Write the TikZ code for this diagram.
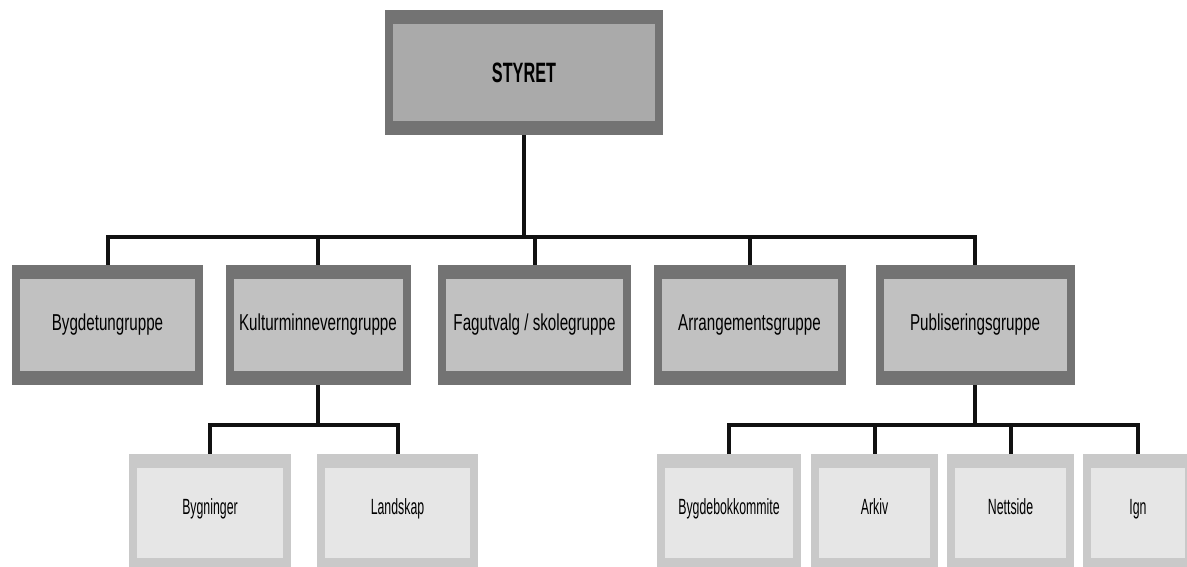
\documentclass[tikz,border=0pt]{standalone}
\usepackage{fontspec}
\newfontfamily\condfont[FakeStretch=0.66]{Liberation Sans}
\newfontfamily\narrowfont[FakeStretch=0.56]{Liberation Sans}
\newfontfamily\titlefont[FakeStretch=0.58]{Liberation Sans Bold}
\usetikzlibrary{calc}
\definecolor{darkframe}{HTML}{737373}
\definecolor{topfill}{HTML}{AAAAAA}
\definecolor{midfill}{HTML}{C1C1C1}
\definecolor{lightframe}{HTML}{C9C9C9}
\definecolor{lightfill}{HTML}{E6E6E6}
\definecolor{wire}{HTML}{111111}
\tikzset{
  x=1pt, y=-1pt,
  framebox/.style n args={2}{rectangle, inner sep=0pt, fill=#1,
    path picture={\fill[#2]
      ($(path picture bounding box.north west)+(8pt,-14pt)$) rectangle
      ($(path picture bounding box.south east)+(-8pt,14pt)$);}},
  topbox/.style={framebox={darkframe}{topfill}, minimum width=278pt, minimum height=125pt,
    font=\titlefont\fontsize{28}{30}\selectfont},
  midbox/.style={framebox={darkframe}{midfill}, minimum height=120pt,
    font=\condfont\fontsize{23}{26}\selectfont},
  lowbox/.style={framebox={lightframe}{lightfill}, minimum height=118pt,
    text height=16pt, text depth=14pt,
    font=\narrowfont\fontsize{22}{25}\selectfont},
  wireline/.style={draw=wire, line width=4pt},
}
\begin{document}
\begin{tikzpicture}
\useasboundingbox (0,0) rectangle (1187,567);
\clip (0,0) rectangle (1187,567);
\fill[white] (0,0) rectangle (1187,567);

% boxes
\node[topbox] (styret) at (524,72.5) {STYRET};

\node[midbox, minimum width=191pt] (bygdetun) at (107.5,325) {Bygdetungruppe};
\node[midbox, minimum width=185pt] (kultur) at (318,325) {Kulturminneverngruppe};
\node[midbox, minimum width=193pt] (fag) at (534.5,325) {Fagutvalg / skolegruppe};
\node[midbox, minimum width=192pt] (arr) at (749.5,325) {Arrangementsgruppe};
\node[midbox, minimum width=199pt] (pub) at (975,325) {Publiseringsgruppe};

\node[lowbox, minimum width=162pt] (bygn) at (210,513) {Bygninger};
\node[lowbox, minimum width=161pt] (land) at (397.5,513) {Landskap};
\node[lowbox, minimum width=144pt] (bok) at (729,513) {Bygdebokkommite};
\node[lowbox, minimum width=127pt] (arkiv) at (874.5,513) {Arkiv};
\node[lowbox, minimum width=127pt] (nett) at (1010.5,513) {Nettside};
\node[lowbox, minimum width=110pt] (ign) at (1138,513) {Ign};

% bus coordinates
\coordinate (busA) at (524,237);
\coordinate (busB) at (318,425);
\coordinate (busC) at (975,425);

% connectors
\draw[wireline] (styret.south) -- (busA);
\draw[wireline] (bygdetun.north) -- (bygdetun.north |- busA) -- (pub.north |- busA) -- (pub.north);
\draw[wireline] (kultur.north) -- (kultur.north |- busA);
\draw[wireline] (fag.north) -- (fag.north |- busA);
\draw[wireline] (arr.north) -- (arr.north |- busA);

\draw[wireline] (kultur.south) -- (busB);
\draw[wireline] (bygn.north) -- (bygn.north |- busB) -- (land.north |- busB) -- (land.north);

\draw[wireline] (pub.south) -- (busC);
\draw[wireline] (bok.north) -- (bok.north |- busC) -- (ign.north |- busC) -- (ign.north);
\draw[wireline] (arkiv.north) -- (arkiv.north |- busC);
\draw[wireline] (nett.north) -- (nett.north |- busC);
\end{tikzpicture}
\end{document}
